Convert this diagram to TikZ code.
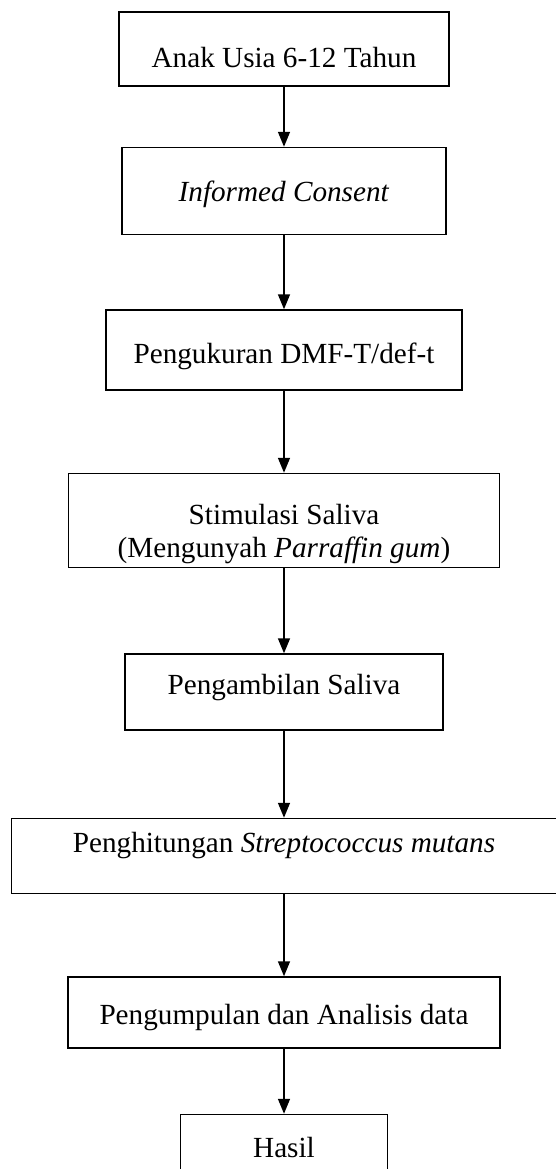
\documentclass[tikz,border=0pt]{standalone}
\usepackage{fontspec}
\setmainfont{Liberation Serif}
\usepackage{tikz}
\usetikzlibrary{arrows.meta}
\usetikzlibrary{positioning}

\tikzset{
  box/.style 2 args={draw, rectangle, inner sep=0pt, minimum width=#1, minimum height=#2,
    font=\fontsize{14.6}{16.5}\selectfont},
  drop/.style={text height=#1, text depth=0pt}
}

\begin{document}
\begin{tikzpicture} [->,>={Triangle[length=7.5pt,width=6pt]},line width=0.75pt]

  \useasboundingbox (0,0) rectangle (278pt,-584.5pt);

  \node[box={165pt}{37pt},drop=18pt] (b1) at (142pt,-24.5pt) {Anak Usia 6-12 Tahun};
  \node[box={162pt}{43.5pt},drop=10.5pt] (b2) [below=30pt of b1] {\textit{Informed Consent}};
  \node[box={178pt}{40pt},drop=13pt] (b3) [below=37pt of b2] {Pengukuran DMF-T/def-t};
  \node[box={215.5pt}{47pt},drop=37pt,align=center] (b4) [below=41pt of b3]
    {Stimulasi Saliva\\(Mengunyah \textit{Parraffin gum})};
  \node[box={159pt}{38pt},drop=2pt] (b5) [below=42.5pt of b4] {Pengambilan Saliva};
  \node[box={272.5pt}{37.5pt},text height=0pt,text depth=3.5pt] (b6) [below=43.5pt of b5]
    {Penghitungan \textit{Streptococcus mutans}};
  \node[box={216pt}{35.5pt},drop=11.5pt] (b7) [below=41pt of b6] {Pengumpulan dan Analisis data};
  \node[box={103.5pt}{38pt},drop=5pt] (b8) [below=32.5pt of b7] {Hasil};

  \path
    (b1) edge (b2)
    (b2) edge (b3)
    (b3) edge (b4)
    (b4) edge (b5)
    (b5) edge (b6)
    (b6) edge (b7)
    (b7) edge (b8);

\end{tikzpicture}
\end{document}
